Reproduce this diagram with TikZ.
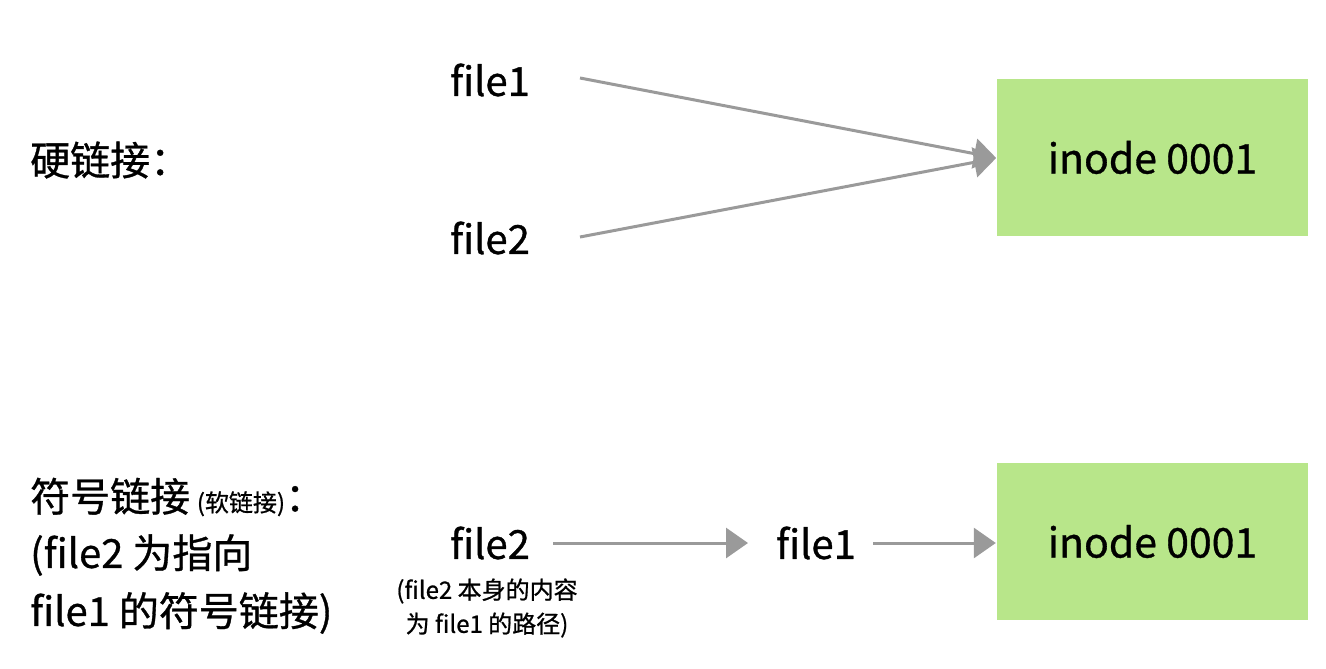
\documentclass[tikz,border=0pt]{standalone}
\usepackage{fontspec}
\setmainfont{Noto Sans CJK SC}[FakeBold=0.8]
\usetikzlibrary{arrows.meta}
\definecolor{boxgreen}{HTML}{B8E68A}
\definecolor{arrgray}{HTML}{9A9A9A}
\tikzset{
  lbl/.style={font=\fontsize{40}{46}\selectfont, inner sep=0pt},
  small/.style={font=\fontsize{24}{34}\selectfont, inner sep=0pt, align=center},
  inodebox/.style={fill=boxgreen, draw=none, minimum width=311pt, minimum height=157pt, inner sep=0pt, font=\fontsize{41}{46}\selectfont},
  conn/.style={draw=arrgray, line width=3pt, -{Triangle[length=22pt,width=30pt]}, shorten >=1pt}
}
\begin{document}
\begin{tikzpicture}[x=1pt,y=-1pt]
\useasboundingbox (0,0) rectangle (1326,669);
% hard link
\node[lbl, anchor=west] (hard) at (30,160) {硬链接：};
\node[lbl] (h1) at (490,80) {file1};
\node[lbl] (h2) at (490,238) {file2};
\node[inodebox] (box1) at (1152.5,157.5) {inode 0001};
\coordinate (t1) at (997,158);
\coordinate (s1) at (580,78);
\coordinate (s2) at (580,237);
\draw[conn] (s1) -- (t1);
\draw[conn] (s2) -- (t1);
% symbolic link
\node[lbl, anchor=west] (sym) at (30,497) {符号链接\,{\fontsize{24}{26}\selectfont (软链接)}：};
\node[lbl, anchor=west] (sym2) at (30,555) {(file2 为指向};
\node[lbl, anchor=west] (sym3) at (30,613) {file1 的符号链接)};
\node[lbl] (f2) at (490,543) {file2};
\node[small] (note) at (487,608) {(file2 本身的内容\\为 file1 的路径)};
\node[lbl] (f1) at (816,543) {file1};
\node[inodebox] (box2) at (1152.5,541.5) {inode 0001};
\coordinate (a0) at (553,543);
\coordinate (a1) at (749,543);
\coordinate (b0) at (873,543);
\draw[conn] (a0) -- (a1);
\draw[conn] (b0) -- (box2.west |- b0);
\end{tikzpicture}
\end{document}
